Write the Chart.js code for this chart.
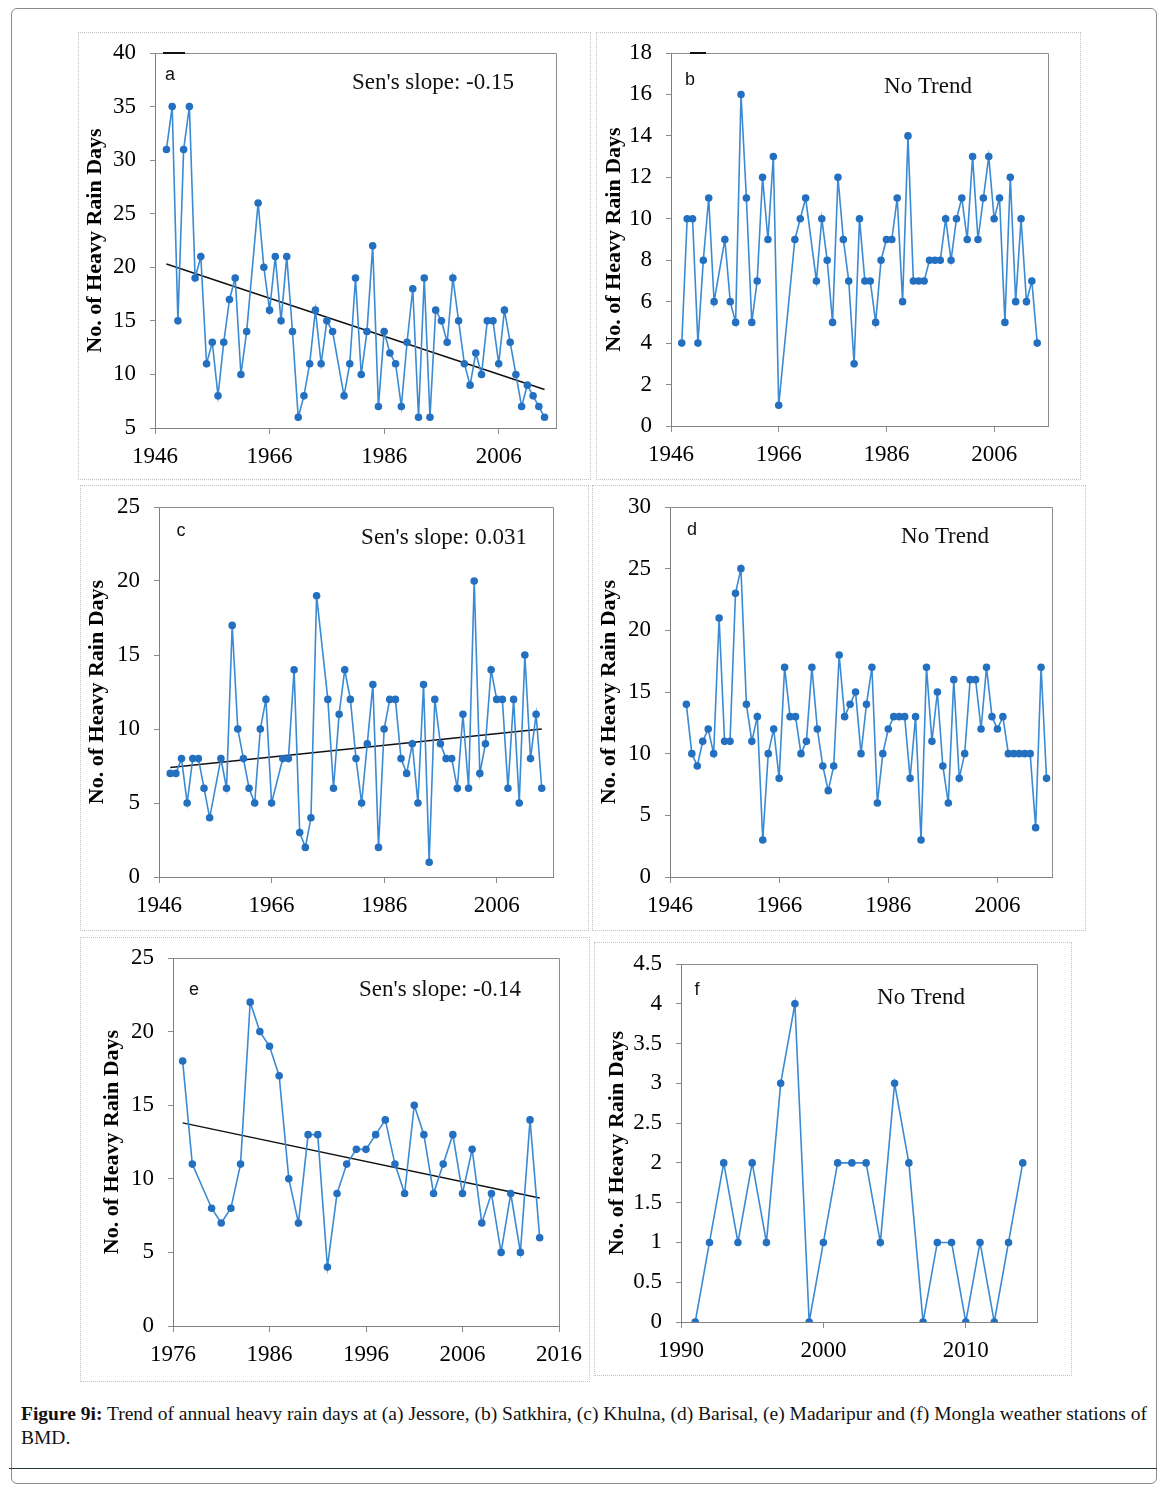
<!DOCTYPE html>
<html>
<head>
<meta charset="utf-8">
<script src="https://cdn.jsdelivr.net/npm/chart.js@4.4.1/dist/chart.umd.min.js"></script>
<style>
  body { margin: 0; background: #fff; }
  #page { position: relative; width: 1166px; height: 1489px; overflow: hidden; background: #fff; }
  #frame { position: absolute; left: 11px; top: 8px; width: 1144px; height: 1474px; border: 1px solid #8a8a8a; border-radius: 6px; }
  .panel { position: absolute; border: 1px dotted #c4c4c4; box-sizing: border-box; }
  .panel canvas { position: absolute; left: -1px; top: -1px; }
  #rule { position: absolute; left: 9px; top: 1468px; width: 1148px; height: 1px; background: #1e4034; }
  #cap { position: absolute; left: 21px; top: 1402px; font-family: "Liberation Serif", serif; font-size: 19.5px; line-height: 24px; color: #111; white-space: nowrap; }
  #cap b { font-weight: bold; }
</style>
</head>
<body>
<div id="page">
  <div id="frame"></div>
  <div class="panel" style="left:78px;top:32px;width:513px;height:448px"><canvas id="ca"></canvas></div>
  <div class="panel" style="left:596px;top:32px;width:485px;height:448px"><canvas id="cb"></canvas></div>
  <div class="panel" style="left:80px;top:485px;width:509px;height:446px"><canvas id="cc"></canvas></div>
  <div class="panel" style="left:592px;top:485px;width:494px;height:446px"><canvas id="cd"></canvas></div>
  <div class="panel" style="left:80px;top:937px;width:510px;height:445px"><canvas id="ce"></canvas></div>
  <div class="panel" style="left:594px;top:942px;width:478px;height:434px"><canvas id="cf"></canvas></div>
  <div id="cap"><b>Figure 9i:</b> Trend of annual heavy rain days at (a) Jessore, (b) Satkhira, (c) Khulna, (d) Barisal, (e) Madaripur and (f) Mongla weather stations of<br>BMD.</div>
  <div id="rule"></div>
</div>
<script>
// (a) Jessore
const aYears = [1948,1949,1950,1951,1952,1953,1954,1955,1956,1957,1958,1959,1960,1961,1962,
  1964,1965,1966,1967,1968,1969,1970,1971,1972,1973,1974,1975,1976,1977,
  1979,1980,1981,1982,1983,1984,1985,1986,1987,1988,1989,1990,1991,1992,1993,1994,1995,1996,
  1997,1998,1999,2000,2001,2002,2003,2004,2005,2006,2007,2008,2009,2010,2011,2012,2013,2014];
const aValues = [31,35,15,31,35,19,21,11,13,8,13,17,19,10,14,
  26,20,16,21,15,21,14,6,8,11,16,11,15,14,
  8,11,19,10,14,22,7,14,12,11,7,13,18,6,19,6,16,15,
  13,19,15,11,9,12,10,15,15,11,16,13,10,7,9,8,7,6];
const aTrendYears = [1948, 2014];
const aTrend = [20.3, 8.6];

// (b) Satkhira
const bYears = [1948,1949,1950,1951,1952,1953,1954,1956,1957,1958,1959,1960,1961,1962,1963,1964,1965,1966,
  1969,1970,1971,1973,1974,1975,1976,1977,1978,1979,1980,1981,1982,1983,1984,1985,1986,1987,1988,1989,
  1990,1991,1992,1993,1994,1995,1996,1997,1998,1999,2000,2001,2002,2003,2004,2005,2006,2007,2008,2009,
  2010,2011,2012,2013,2014];
const bValues = [4,10,10,4,8,11,6,9,6,5,16,11,5,7,12,9,13,1,
  9,10,11,7,10,8,5,12,9,7,3,10,7,7,5,8,9,9,11,6,
  14,7,7,7,8,8,8,10,8,10,11,9,13,9,11,13,10,11,5,12,
  6,10,6,7,4];

// (c) Khulna
const cYears = [1948,1949,1950,1951,1952,1953,1954,1955,1957,1958,1959,1960,1961,1962,1963,1964,1965,1966,
  1968,1969,1970,1971,1972,1973,1974,1976,1977,1978,1979,1980,1981,1982,1983,1984,1985,1986,1987,1988,
  1989,1990,1991,1992,1993,1994,1995,1996,1997,1998,1999,2000,2001,2002,2003,2004,2005,2006,2007,2008,
  2009,2010,2011,2012,2013,2014];
const cValues = [7,7,8,5,8,8,6,4,8,6,17,10,8,6,5,10,12,5,
  8,8,14,3,2,4,19,12,6,11,14,12,8,5,9,13,2,10,12,12,
  8,7,9,5,13,1,12,9,8,8,6,11,6,20,7,9,14,12,12,6,
  12,5,15,8,11,6];
const cTrendYears = [1948, 2014];
const cTrend = [7.4, 10.0];

// (d) Barisal
const dYears = [1949,1950,1951,1952,1953,1954,1955,1956,1957,1958,1959,1960,1961,1962,1963,1964,1965,1966,
  1967,1968,1969,1970,1971,1972,1973,1974,1975,1976,1977,1978,1979,1980,1981,1982,1983,1984,1985,1986,
  1987,1988,1989,1990,1991,1992,1993,1994,1995,1996,1997,1998,1999,2000,2001,2002,2003,2004,2005,2006,
  2007,2008,2009,2010,2011,2012,2013,2014,2015];
const dValues = [14,10,9,11,12,10,21,11,11,23,25,14,11,13,3,10,12,8,
  17,13,13,10,11,17,12,9,7,9,18,13,14,15,10,14,17,6,10,12,
  13,13,13,8,13,3,17,11,15,9,6,16,8,10,16,16,12,17,13,12,
  13,10,10,10,10,10,4,17,8];

// (e) Madaripur
const eYears = [1977,1978,1980,1981,1982,1983,1984,1985,1986,1987,1988,1989,1990,1991,1992,1993,1994,1995,
  1996,1997,1998,1999,2000,2001,2002,2003,2004,2005,2006,2007,2008,2009,2010,2011,2012,2013,2014];
const eValues = [18,11,8,7,8,11,22,20,19,17,10,7,13,13,4,9,11,12,
  12,13,14,11,9,15,13,9,11,13,9,12,7,9,5,9,5,14,6];
const eTrendYears = [1977, 2014];
const eTrend = [13.8, 8.7];

// (f) Mongla
const fYears = [1991,1992,1993,1994,1995,1996,1997,1998,1999,2000,2001,2002,
  2003,2004,2005,2006,2007,2008,2009,2010,2011,2012,2013,2014];
const fValues = [0,1,2,1,2,1,3,4,0,1,2,2,2,1,3,2,0,1,1,0,1,0,1,2];

// ticks de los ejes
const xTicks1946 = [1946, 1966, 1986, 2006];
const xTicks1976 = [1976, 1986, 1996, 2006, 2016];
const xTicks1990 = [1990, 2000, 2010];
const yTicksA = [5, 10, 15, 20, 25, 30, 35, 40];
const yTicksB = [0, 2, 4, 6, 8, 10, 12, 14, 16, 18];
const yTicks25 = [0, 5, 10, 15, 20, 25];
const yTicksD = [0, 5, 10, 15, 20, 25, 30];
const yTicksF = [0, 0.5, 1, 1.5, 2, 2.5, 3, 3.5, 4, 4.5];

const yTitle = 'No. of Heavy Rain Days';
const SERIF = '"Liberation Serif", "Times New Roman", serif';

function pts(xs, ys) {
  return xs.map((x, i) => ({ x: x, y: ys[i] }));
}

// dibuja el borde del area, la letra y la nota
const decor = {
  id: 'decor',
  afterDraw(chart, args, o) {
    const ctx = chart.ctx;
    const a = chart.chartArea;
    ctx.save();
    ctx.strokeStyle = '#8c8c8c';
    ctx.lineWidth = 1;
    ctx.beginPath();
    ctx.moveTo(a.left, a.top + 0.5);
    ctx.lineTo(a.right + 0.5, a.top + 0.5);
    ctx.lineTo(a.right + 0.5, a.bottom);
    ctx.stroke();
    if (o.mark) {
      ctx.strokeStyle = '#111';
      ctx.lineWidth = 2;
      ctx.beginPath();
      ctx.moveTo(o.mark[0], a.top);
      ctx.lineTo(o.mark[1], a.top);
      ctx.stroke();
    }
    ctx.fillStyle = '#111';
    ctx.textAlign = 'center';
    ctx.textBaseline = 'middle';
    ctx.font = '18px "Liberation Sans", Arial, sans-serif';
    ctx.fillText(o.letter, o.lx, o.ly);
    ctx.font = '23px ' + SERIF;
    ctx.fillText(o.note, o.nx, o.ny);
    ctx.restore();
  }
};

function makeChart(id, p) {
  const cv = document.getElementById(id);
  cv.width = p.w; cv.height = p.h;
  cv.style.width = p.w + 'px'; cv.style.height = p.h + 'px';
  const datasets = [{
    data: pts(p.xs, p.ys),
    showLine: true,
    borderColor: '#3b8ad4',
    borderWidth: 1.6,
    backgroundColor: '#2470c0',
    pointBorderColor: '#2470c0',
    pointRadius: 3,
    pointHoverRadius: 3,
    tension: 0
  }];
  if (p.tx) {
    datasets.push({
      data: pts(p.tx, p.ty),
      showLine: true,
      borderColor: '#111',
      borderWidth: 1.5,
      pointRadius: 0,
      tension: 0
    });
  }
  const tickFont = { family: SERIF, size: 23 };
  return new Chart(cv.getContext('2d'), {
    type: 'scatter',
    data: { datasets: datasets },
    plugins: [decor],
    options: {
      responsive: false,
      animation: false,
      devicePixelRatio: 1,
      layout: { padding: { top: p.top, right: p.right, left: 0, bottom: 0 } },
      plugins: {
        legend: { display: false },
        tooltip: { enabled: false },
        decor: { letter: p.letter, lx: p.lx, ly: p.ly, note: p.note, nx: p.nx, ny: p.ny, mark: p.mark }
      },
      scales: {
        x: {
          type: 'linear',
          min: p.xmin, max: p.xmax,
          afterBuildTicks: s => { s.ticks = p.xt.map(v => ({ value: v })); },
          afterFit: s => { s.height = p.xh; s.paddingLeft = 0; s.paddingRight = 0; },
          grid: { display: true, drawOnChartArea: false, drawTicks: true, tickLength: 6, color: '#8c8c8c' },
          border: { color: '#7f7f7f', width: 1 },
          ticks: { font: tickFont, color: '#000', padding: 9, maxRotation: 0, autoSkip: false, callback: v => String(v) }
        },
        y: {
          type: 'linear',
          min: p.ymin, max: p.ymax,
          afterBuildTicks: s => { s.ticks = p.yt.map(v => ({ value: v })); },
          afterFit: s => { s.width = p.yw; s.paddingTop = 0; s.paddingBottom = 0; },
          grid: { display: true, drawOnChartArea: false, drawTicks: true, tickLength: 5, color: '#8c8c8c' },
          border: { color: '#7f7f7f', width: 1 },
          ticks: { font: tickFont, color: '#000', padding: 14, autoSkip: false, callback: v => String(v) },
          title: {
            display: true, text: yTitle, color: '#000',
            font: { family: SERIF, size: 22, weight: 'bold' },
            padding: { top: p.tp, bottom: 0 }
          }
        }
      }
    }
  });
}

makeChart('ca', { w: 513, h: 448, top: 21, right: 35, yw: 77, xh: 52, tp: 4,
  xs: aYears, ys: aValues, tx: aTrendYears, ty: aTrend,
  xmin: 1946, xmax: 2016, xt: xTicks1946, ymin: 5, ymax: 40, yt: yTicksA,
  letter: 'a', lx: 92, ly: 43, note: "Sen's slope: -0.15", nx: 355, ny: 51, mark: [85, 107] });

makeChart('cb', { w: 485, h: 448, top: 21, right: 33, yw: 75, xh: 54, tp: 5,
  xs: bYears, ys: bValues,
  xmin: 1946, xmax: 2016, xt: xTicks1946, ymin: 0, ymax: 18, yt: yTicksB,
  letter: 'b', lx: 94, ly: 48, note: 'No Trend', nx: 332, ny: 55, mark: [94, 110] });

makeChart('cc', { w: 509, h: 446, top: 22, right: 36, yw: 79, xh: 54, tp: 4,
  xs: cYears, ys: cValues, tx: cTrendYears, ty: cTrend,
  xmin: 1946, xmax: 2016, xt: xTicks1946, ymin: 0, ymax: 25, yt: yTicks25,
  letter: 'c', lx: 101, ly: 46, note: "Sen's slope: 0.031", nx: 364, ny: 53 });

makeChart('cd', { w: 494, h: 446, top: 22, right: 34, yw: 78, xh: 54, tp: 4,
  xs: dYears, ys: dValues,
  xmin: 1946, xmax: 2016, xt: xTicks1946, ymin: 0, ymax: 30, yt: yTicksD,
  letter: 'd', lx: 100, ly: 45, note: 'No Trend', nx: 353, ny: 52 });

makeChart('ce', { w: 510, h: 445, top: 21, right: 31, yw: 93, xh: 56, tp: 19,
  xs: eYears, ys: eValues, tx: eTrendYears, ty: eTrend,
  xmin: 1976, xmax: 2016, xt: xTicks1976, ymin: 0, ymax: 25, yt: yTicks25,
  letter: 'e', lx: 114, ly: 53, note: "Sen's slope: -0.14", nx: 360, ny: 53 });

makeChart('cf', { w: 478, h: 434, top: 22, right: 35, yw: 87, xh: 54, tp: 10,
  xs: fYears, ys: fValues,
  xmin: 1990, xmax: 2015, xt: xTicks1990, ymin: 0, ymax: 4.5, yt: yTicksF,
  letter: 'f', lx: 103, ly: 48, note: 'No Trend', nx: 327, ny: 56 });
</script>
</body>
</html>
